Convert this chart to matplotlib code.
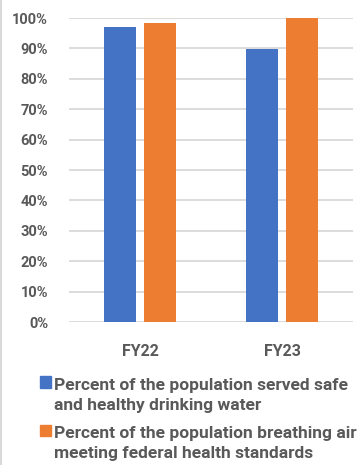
import numpy as np
import matplotlib.pyplot as plt
from matplotlib.lines import Line2D
from matplotlib.patches import Patch, Rectangle
from matplotlib.legend_handler import HandlerPatch

categories = ['FY22', 'FY23']
water = [97, 89.8]
air = [98.2, 100]
labels = ['Percent of the population served safe\nand healthy drinking water',
          'Percent of the population breathing air\nmeeting federal health standards']
yticks = list(range(0, 101, 10))

gray = '#595959'
plt.rcParams['font.family'] = ['Roboto', 'DejaVu Sans']

fig = plt.figure(figsize=(3.57, 4.65), dpi=100)
ax = fig.add_axes([69 / 357, 1 - 322 / 465, 284 / 357, 304 / 465])

x = np.arange(len(categories))
w = 0.225
ax.bar(x - 0.141, water, w, color='#4472C4', zorder=3)
ax.bar(x + 0.141, air, w, color='#ED7D31', zorder=3)

ax.set_xlim(-0.5, 1.5)
ax.set_ylim(0, 100)
ax.set_yticks(yticks)
ax.set_yticklabels([f'{t}%' for t in yticks], fontsize=10.5, fontweight='bold', color=gray)
ax.set_xticks(x)
ax.set_xticklabels(categories, fontsize=11.5, fontweight='bold', color=gray)
ax.tick_params(length=0)
ax.tick_params(axis='y', pad=15)
ax.tick_params(axis='x', pad=16)
ax.grid(axis='y', color='#D9D9D9', linewidth=1.3, zorder=0)
ax.set_axisbelow(True)
for s in ax.spines.values():
    s.set_visible(False)


def top_square(legend, orig_handle, xdescent, ydescent, width, height, fontsize):
    # put the square next to the first line of the label
    return Rectangle((-xdescent, -ydescent + 0.78 * fontsize), width, width)


handles = [Patch(color='#4472C4'), Patch(color='#ED7D31')]
leg = fig.legend(handles, labels, loc='upper left', bbox_to_anchor=(33 / 357, 1 - 371 / 465),
                 frameon=False, prop={'size': 12.5, 'weight': 'bold'}, labelcolor=gray,
                 handlelength=0.64, handleheight=0.64, handletextpad=0.15, labelspacing=0.75,
                 borderaxespad=0, handler_map={Patch: HandlerPatch(patch_func=top_square)})
for t in leg.get_texts():
    t.set_linespacing(1.42)

fig.add_artist(Line2D([0.004, 0.004], [0, 1], color='#D9D9D9', linewidth=1.5))

fig.savefig('out.png', dpi=100)
